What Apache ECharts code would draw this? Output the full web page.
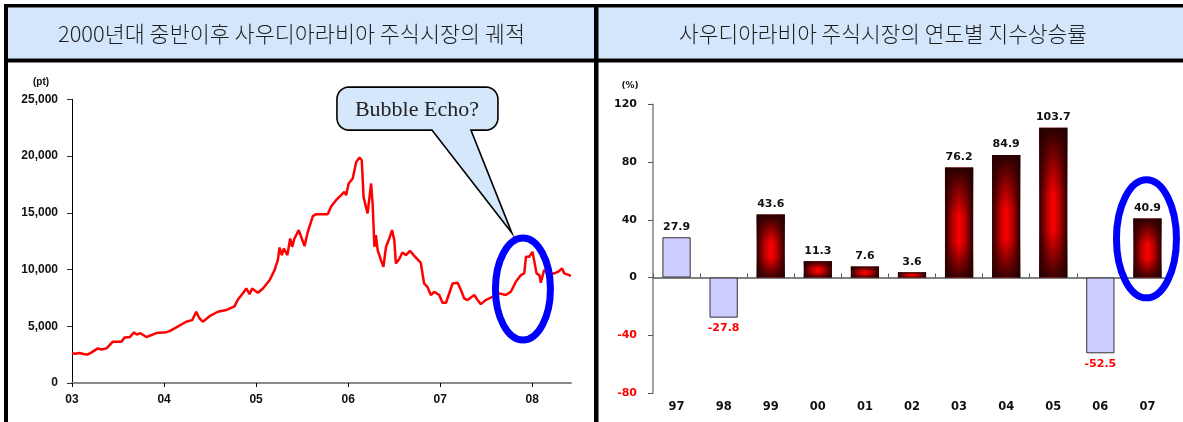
<!DOCTYPE html>
<html>
<head>
<meta charset="utf-8">
<script src="https://cdn.jsdelivr.net/npm/echarts@6/dist/echarts.min.js"></script>
<style>
  html, body { margin: 0; padding: 0; background: #ffffff; }
  #chart { width: 1183px; height: 422px; }
</style>
</head>
<body>
<div id="chart"></div>
<script>
// ---- panel titles ----
const leftTitle = '2000년대 중반이후 사우디아라비아 주식시장의 궤적';
const rightTitle = '사우디아라비아 주식시장의 연도별 지수상승률';
const calloutText = 'Bubble Echo?';

// ---- Tadawul All Share Index, 2003 ~ mid 2008 (pt) ----
const indexDates = [
  '2003-01-01','2003-01-15','2003-02-01','2003-02-15','2003-03-03','2003-03-20','2003-04-13','2003-04-28',
  '2003-05-18','2003-06-12','2003-07-16','2003-07-29','2003-08-18','2003-09-04','2003-09-13','2003-09-29',
  '2003-10-23','2003-12-01','2004-01-10','2004-01-23','2004-02-19','2004-03-29','2004-04-22','2004-05-08',
  '2004-05-21','2004-06-03','2004-06-30','2004-08-02','2004-09-04','2004-10-07','2004-10-20','2004-11-09',
  '2004-11-23','2004-12-06','2004-12-16','2005-01-08','2005-01-28','2005-02-24','2005-03-15','2005-03-28',
  '2005-04-04','2005-04-13','2005-04-21','2005-05-05','2005-05-16','2005-05-24','2005-06-02','2005-06-19',
  '2005-07-12','2005-07-25','2005-08-14','2005-08-27','2005-10-12','2005-10-26','2005-11-14','2005-12-04',
  '2005-12-17','2005-12-24','2006-01-03','2006-01-19','2006-02-02','2006-02-15','2006-02-24','2006-03-03',
  '2006-03-10','2006-03-19','2006-04-02','2006-04-08','2006-04-15','2006-04-21','2006-04-28','2006-05-11',
  '2006-05-21','2006-05-31','2006-06-13','2006-06-24','2006-07-03','2006-07-09','2006-07-22','2006-08-04',
  '2006-08-18','2006-09-03','2006-09-20','2006-10-07','2006-10-16','2006-10-29','2006-11-11','2006-11-25',
  '2006-12-08','2006-12-28','2007-01-10','2007-01-24','2007-02-19','2007-03-11','2007-03-24','2007-04-06',
  '2007-04-19','2007-05-16','2007-05-29','2007-06-11','2007-07-01','2007-07-27','2007-08-23','2007-09-18',
  '2007-10-08','2007-10-28','2007-11-17','2007-11-30','2007-12-07','2007-12-20','2008-01-02','2008-01-09',
  '2008-01-18','2008-01-29','2008-02-04','2008-02-17','2008-03-08','2008-03-28','2008-04-14','2008-04-28',
  '2008-05-07','2008-05-27','2008-06-02'
];
const indexValues = [
  2620, 2580, 2650, 2560, 2500, 2700, 3050, 2950,
  3050, 3640, 3640, 4020, 4050, 4460, 4280, 4380,
  4050, 4400, 4480, 4570, 4900, 5400, 5540, 6280,
  5690, 5400, 5890, 6280, 6430, 6750, 7330, 7890,
  8330, 7830, 8330, 7950, 8330, 9070, 9950, 10830,
  11940, 11270, 11850, 11270, 12730, 12000, 12730, 13470,
  12060, 13320, 14700, 14880, 14880, 15580, 16110, 16550,
  16840, 16550, 17580, 18020, 19480, 19870, 19630, 16400,
  16400, 14940, 17580, 15820, 12000, 13030, 11710, 10830,
  10240, 12000, 12730, 13470, 12590, 10530, 10900, 11500,
  11270, 11650, 11200, 10800, 10590, 8770, 8480, 7750,
  8040, 7750, 7070, 7070, 8770, 8830, 8190, 7460,
  7310, 7750, 7310, 6950, 7310, 7600, 7900, 7750,
  8040, 8920, 9510, 9660, 11120, 11120, 11560, 11410,
  9660, 9510, 8830, 9950, 9660, 9660, 9810, 10100,
  9660, 9510, 9400
];
const indexYears = [2003, 2004, 2005, 2006, 2007, 2008];
const indexYearLabels = ['03', '04', '05', '06', '07', '08'];

// ---- yearly index change (%) ----
const returnYears = ['97', '98', '99', '00', '01', '02', '03', '04', '05', '06', '07'];
const returnValues = [27.9, -27.8, 43.6, 11.3, 7.6, 3.6, 76.2, 84.9, 103.7, -52.5, 40.9];

// years drawn as plain pale bars instead of the red gradient
const paleYears = ['97', '98', '06'];

// date string -> fractional year for the value axis
function toYear(d) {
  const p = d.split('-').map(Number);
  const start = Date.UTC(p[0], 0, 1), end = Date.UTC(p[0] + 1, 0, 1);
  return p[0] + (Date.UTC(p[0], p[1] - 1, p[2]) - start) / (end - start);
}

const BAND = '#d3e6fb';
const AXIS_FONT_L = 'Liberation Sans, Arial, sans-serif';
const AXIS_FONT_R = 'DejaVu Sans, Verdana, sans-serif';
const DARK = '#260000';

const chart = echarts.init(document.getElementById('chart'), null, { renderer: 'canvas' });

// red bars: horizontal red core, darkened towards top and bottom by an overlay
const redFill = {
  type: 'linear', x: 0, y: 0, x2: 1, y2: 0,
  colorStops: [
    { offset: 0, color: DARK },
    { offset: 0.28, color: '#b80000' },
    { offset: 0.5, color: '#ff0000' },
    { offset: 0.72, color: '#b80000' },
    { offset: 1, color: DARK }
  ]
};
const shadeFill = {
  type: 'linear', x: 0, y: 0, x2: 0, y2: 1,
  colorStops: [
    { offset: 0, color: 'rgba(38,0,0,1)' },
    { offset: 0.45, color: 'rgba(38,0,0,0)' },
    { offset: 0.68, color: 'rgba(38,0,0,0)' },
    { offset: 1, color: 'rgba(38,0,0,0.9)' }
  ]
};

const barData = returnValues.map((v, i) => {
  const pale = paleYears.indexOf(returnYears[i]) >= 0;
  const item = {
    value: v,
    itemStyle: pale
      ? { color: '#ccccff', borderColor: '#333333', borderWidth: 1 }
      : { color: redFill }
  };
  if (v < 0) item.label = { position: 'bottom', color: '#ff0000' };
  return item;
});
const shadeData = returnValues.map((v, i) =>
  paleYears.indexOf(returnYears[i]) >= 0 ? '-' : v);

const xMaxYear = toYear('2008-06-03');

chart.setOption({
  animation: false,
  backgroundColor: '#ffffff',
  grid: [
    { left: 72, top: 99.3, width: 499, height: 283.7 },
    { left: 653, top: 104.3, width: 518, height: 288.7 }
  ],
  xAxis: [
    {
      gridIndex: 0, type: 'value', min: 2003, max: xMaxYear, interval: 1,
      axisLine: { show: true, lineStyle: { color: '#8a8a8a', width: 2 } },
      axisTick: { show: true, length: 4, customValues: indexYears, lineStyle: { color: '#000', width: 1 } },
      axisLabel: {
        customValues: indexYears, margin: 11,
        formatter: v => {
          const k = indexYears.indexOf(Math.round(v));
          return Math.abs(v - Math.round(v)) < 1e-6 && k >= 0 ? indexYearLabels[k] : '';
        },
        fontFamily: AXIS_FONT_L, fontWeight: 'bold', fontSize: 12, color: '#111'
      },
      splitLine: { show: false }
    },
    {
      gridIndex: 1, type: 'category', data: returnYears, position: 'bottom',
      axisLine: { show: true, onZero: true, lineStyle: { color: '#808080', width: 2 } },
      axisTick: { show: true, inside: true, length: 4, lineStyle: { color: '#555', width: 1 } },
      axisLabel: { show: false },
      splitLine: { show: false }
    },
    {
      gridIndex: 1, type: 'category', data: returnYears, position: 'bottom',
      axisLine: { show: false, onZero: false },
      axisTick: { show: false },
      axisLabel: {
        margin: 8, fontFamily: AXIS_FONT_R, fontWeight: 'bold', fontSize: 11.5, color: '#111'
      },
      splitLine: { show: false }
    }
  ],
  yAxis: [
    {
      gridIndex: 0, type: 'value', min: 0, max: 25000, interval: 5000,
      axisLine: { show: true, lineStyle: { color: '#000', width: 1 } },
      axisTick: { show: true, length: 5, lineStyle: { color: '#333', width: 1 } },
      axisLabel: {
        margin: 14, formatter: v => v.toLocaleString('en-US'),
        fontFamily: AXIS_FONT_L, fontWeight: 'bold', fontSize: 12, color: '#111'
      },
      splitLine: { show: false }
    },
    {
      gridIndex: 1, type: 'value', min: -80, max: 120, interval: 40,
      axisLine: { show: true, lineStyle: { color: '#808080', width: 1.5 } },
      axisTick: { show: true, length: 5, lineStyle: { color: '#555', width: 1 } },
      axisLabel: {
        margin: 16, fontFamily: AXIS_FONT_R, fontWeight: 'bold', fontSize: 11,
        color: v => (v < 0 ? '#ff0000' : '#111')
      },
      splitLine: { show: false }
    }
  ],
  series: [
    {
      type: 'line', xAxisIndex: 0, yAxisIndex: 0,
      data: indexDates.map((d, i) => [toYear(d), indexValues[i]]),
      showSymbol: false, symbol: 'none',
      lineStyle: { color: '#ff0000', width: 2.5 },
      z: 3
    },
    {
      type: 'bar', xAxisIndex: 1, yAxisIndex: 1,
      data: barData, barWidth: '60%', barGap: '-100%',
      label: {
        show: true, position: 'top', distance: 5,
        formatter: p => p.value.toFixed(1),
        fontFamily: AXIS_FONT_R, fontWeight: 'bold', fontSize: 11, color: '#111'
      },
      z: 3
    },
    {
      type: 'bar', xAxisIndex: 1, yAxisIndex: 1,
      data: shadeData, barWidth: '60%', barGap: '-100%',
      itemStyle: { color: shadeFill },
      silent: true, z: 4
    }
  ]
});

// ---- frame, title bands, annotations ----
const ring = chart.convertToPixel({ seriesIndex: 0 }, [toYear('2007-11-25'), 8275]);
const ring2 = chart.convertToPixel({ seriesIndex: 1 }, ['07', 26.8]);
const cx = ring[0], cy = ring[1];

// speech bubble outline: rounded box with a pointer down to the ring
function bubbleOutline(x0, y0, x1, y1, r, notch) {
  const pts = [];
  const arc = (ox, oy, a0, a1) => {
    for (let k = 0; k <= 8; k++) {
      const a = (a0 + (a1 - a0) * k / 8) * Math.PI / 180;
      pts.push([ox + r * Math.cos(a), oy + r * Math.sin(a)]);
    }
  };
  arc(x1 - r, y0 + r, -90, 0);
  arc(x1 - r, y1 - r, 0, 90);
  notch.forEach(p => pts.push(p));
  arc(x0 + r, y1 - r, 90, 180);
  arc(x0 + r, y0 + r, 180, 270);
  return pts;
}
const bx0 = cx - 186, bx1 = cx - 25, by0 = cy - 202, by1 = cy - 159;
const bubblePts = bubbleOutline(bx0, by0, bx1, by1, 12,
  [[cx - 52, by1], [cx - 11, cy - 56], [cx - 91, by1]]);

chart.setOption({
  graphic: [
    { type: 'rect', z: -10, silent: true, shape: { x: 8, y: 7.5, width: 586, height: 51 }, style: { fill: BAND } },
    { type: 'rect', z: -10, silent: true, shape: { x: 598, y: 7.5, width: 600, height: 51 }, style: { fill: BAND } },
    { type: 'rect', z: 50, silent: true, shape: { x: 4, y: 4, width: 1190, height: 3.5 }, style: { fill: '#000' } },
    { type: 'rect', z: 50, silent: true, shape: { x: 4, y: 58.5, width: 1190, height: 4 }, style: { fill: '#000' } },
    { type: 'rect', z: 50, silent: true, shape: { x: 4, y: 4, width: 4, height: 430 }, style: { fill: '#000' } },
    { type: 'rect', z: 50, silent: true, shape: { x: 594, y: 4, width: 4.5, height: 430 }, style: { fill: '#000' } },
    {
      type: 'text', z: 51, silent: true, x: 291.5, y: 34,
      style: {
        text: leftTitle, fill: '#1e1e1e', align: 'center', verticalAlign: 'middle',
        font: '300 21.8px "Noto Sans CJK KR", sans-serif'
      }
    },
    {
      type: 'text', z: 51, silent: true, x: 883, y: 34,
      style: {
        text: rightTitle, fill: '#1e1e1e', align: 'center', verticalAlign: 'middle',
        font: '300 21.4px "Noto Sans CJK KR", sans-serif'
      }
    },
    {
      type: 'text', z: 51, silent: true, x: 41, y: 82,
      style: {
        text: '(pt)', fill: '#111', align: 'center', verticalAlign: 'middle',
        font: 'bold 10px ' + AXIS_FONT_L
      }
    },
    {
      type: 'text', z: 51, silent: true, x: 630, y: 86,
      style: {
        text: '(%)', fill: '#111', align: 'center', verticalAlign: 'middle',
        font: 'bold 9px ' + AXIS_FONT_R
      }
    },
    {
      type: 'ellipse', z: 60, silent: true,
      shape: { cx: cx, cy: cy, rx: 27.5, ry: 51 },
      style: { fill: 'none', stroke: '#0000ff', lineWidth: 7 }
    },
    {
      type: 'ellipse', z: 60, silent: true,
      shape: { cx: ring2[0] - 1, cy: ring2[1], rx: 30, ry: 59 },
      style: { fill: 'none', stroke: '#0000ff', lineWidth: 7 }
    },
    {
      type: 'polygon', z: 61, silent: true,
      shape: { points: bubblePts },
      style: { fill: '#d5e8fb', stroke: '#000', lineWidth: 1.6, lineJoin: 'miter' }
    },
    {
      type: 'text', z: 62, silent: true, x: cx - 106, y: cy - 179,
      style: {
        text: calloutText, fill: '#222', align: 'center', verticalAlign: 'middle',
        font: '22px "Liberation Serif", "DejaVu Serif", serif'
      }
    }
  ]
});
</script>
</body>
</html>
